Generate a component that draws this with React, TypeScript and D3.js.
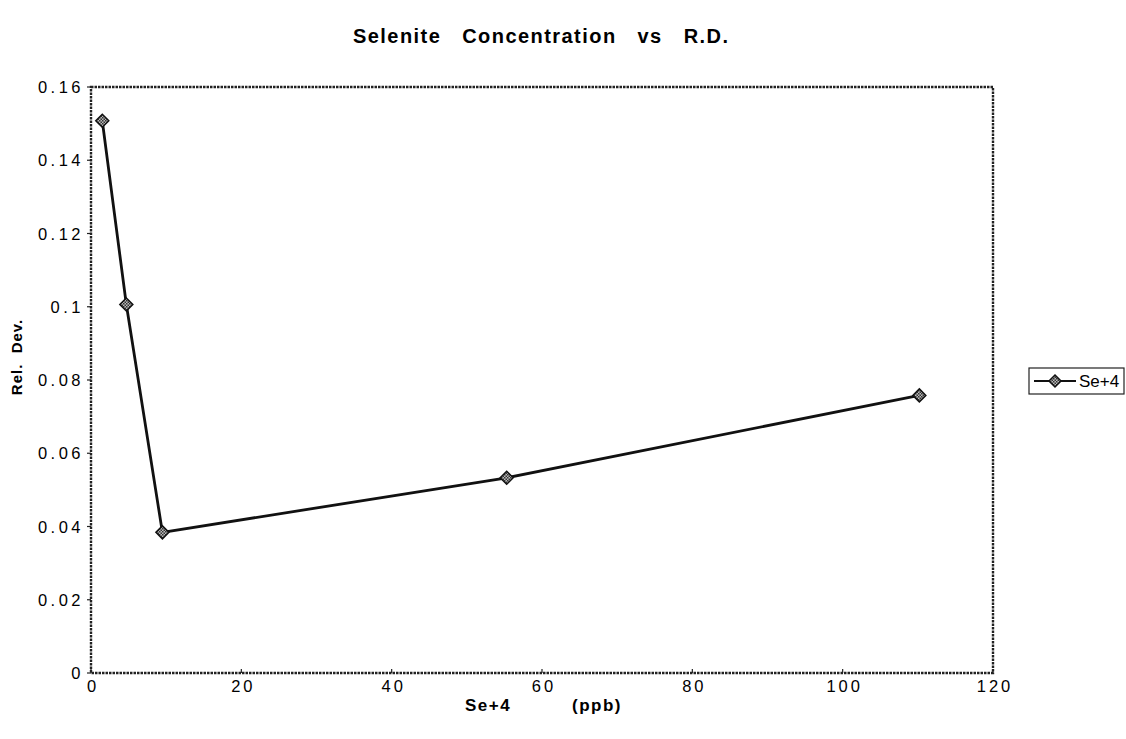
import React from "react";
import * as d3 from "d3";

const seriesName = "Se+4";
const xValues = [1.5, 4.7, 9.5, 55.3, 110.2];
const yValues = [0.1508, 0.1006, 0.0384, 0.0533, 0.0758];
const xTicks = [0, 20, 40, 60, 80, 100, 120];
const yTicks = [0, 0.02, 0.04, 0.06, 0.08, 0.1, 0.12, 0.14, 0.16];
const title = "Selenite   Concentration   vs   R.D.";
const xTitleA = "Se+4";
const xTitleB = "(ppb)";
const yTitle = "Rel.  Dev.";

const W = 1126;
const H = 739;
const plot = { left: 91, right: 993, top: 87, bottom: 673 };
const font = "'Liberation Sans', Arial, sans-serif";

export default function App() {
  const x = d3.scaleLinear().domain([0, 120]).range([plot.left, plot.right]);
  const y = d3.scaleLinear().domain([0, 0.16]).range([plot.bottom, plot.top]);
  const pts: [number, number][] = xValues.map((v, i) => [v, yValues[i]]);
  const line = d3
    .line<[number, number]>()
    .x((d) => x(d[0]))
    .y((d) => y(d[1]));
  const diamond = (cx: number, cy: number, r: number) =>
    `M${cx},${cy - r}L${cx + r},${cy}L${cx},${cy + r}L${cx - r},${cy}Z`;

  return (
    <svg
      width={W}
      height={H}
      style={{ position: "absolute", left: 0, top: 0, background: "#fff" }}
      fontFamily={font}
    >
      <defs>
        <pattern id="hatch" width="3" height="3" patternUnits="userSpaceOnUse">
          <rect width="3" height="3" fill="#bbb" />
          <rect width="1.5" height="1.5" fill="#333" />
          <rect x="1.5" y="1.5" width="1.5" height="1.5" fill="#333" />
        </pattern>
      </defs>
      <text
        x={353}
        y={43}
        fontSize={20}
        fontWeight="bold"
        style={{ whiteSpace: "pre" }}
        textLength={375}
        lengthAdjust="spacing"
      >
        {title}
      </text>

      {/* plot border */}
      <rect
        x={plot.left}
        y={plot.top}
        width={plot.right - plot.left}
        height={plot.bottom - plot.top}
        fill="none"
        stroke="#222"
        strokeWidth={2.4}
        strokeDasharray="2.5 1"
      />

      {/* y ticks */}
      {yTicks.map((t) => (
        <g key={"y" + t}>
          <line x1={plot.left - 4} x2={plot.left} y1={y(t)} y2={y(t)} stroke="#222" strokeWidth={1.2} />
          <text
            x={plot.left - 7}
            y={y(t) + 6}
            textAnchor="end"
            fontSize={16.5}
            letterSpacing={3.5}
          >
            {String(t)}
          </text>
        </g>
      ))}

      {/* x ticks */}
      {xTicks.map((t) => (
        <g key={"x" + t}>
          <line x1={x(t)} x2={x(t)} y1={plot.bottom} y2={plot.bottom - 4} stroke="#222" strokeWidth={1.2} />
          <text x={x(t) + 2} y={plot.bottom + 19} textAnchor="middle" fontSize={16.5} letterSpacing={3}>
            {String(t)}
          </text>
        </g>
      ))}

      <text x={465} y={711} fontSize={17} fontWeight="bold" letterSpacing={1.5}>
        {xTitleA}
      </text>
      <text x={622} y={711} textAnchor="end" fontSize={17} fontWeight="bold" letterSpacing={1.5}>
        {xTitleB}
      </text>
      <text
        transform={`translate(22,${357}) rotate(-90)`}
        textAnchor="middle"
        fontSize={15}
        fontWeight="bold"
        style={{ whiteSpace: "pre" }}
        letterSpacing={1}
      >
        {yTitle}
      </text>

      {/* series */}
      <path d={line(pts) || ""} fill="none" stroke="#111" strokeWidth={2.8} />
      {pts.map((p, i) => (
        <path
          key={i}
          d={diamond(x(p[0]), y(p[1]), 6.5)}
          fill="url(#hatch)"
          stroke="#111"
          strokeWidth={1.5}
        />
      ))}

      {/* legend */}
      <rect x={1029} y={368} width={95} height={26} fill="#fff" stroke="#222" strokeWidth={1.2} />
      <line x1={1034} x2={1076} y1={381} y2={381} stroke="#111" strokeWidth={2} />
      <path d={diamond(1055, 381, 6)} fill="url(#hatch)" stroke="#111" strokeWidth={1.5} />
      <text x={1079} y={387} fontSize={17}>
        {seriesName}
      </text>
    </svg>
  );
}
